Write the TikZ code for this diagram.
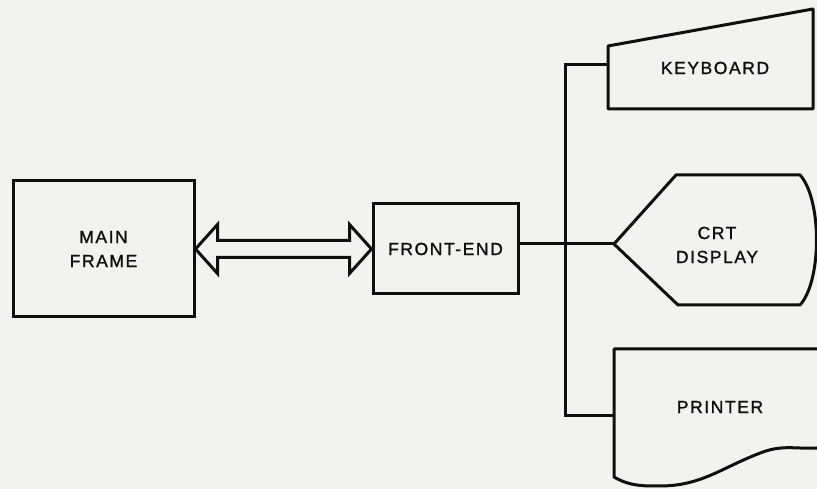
\documentclass[tikz,border=0pt]{standalone}
\usepackage{fontspec}
\setmainfont{Liberation Sans}[LetterSpace=9,FakeBold=1.3]
\definecolor{paper}{RGB}{242,242,240}
\definecolor{ink}{RGB}{15,15,15}

\begin{document}
\begin{tikzpicture}[x=1pt,y=1pt,line width=3pt,draw=ink,
  box/.style={draw,inner sep=0pt},
  lbl/.style={align=center,text=ink,font=\fontsize{17.5}{24}\selectfont}]
  \fill[paper] (0,0) rectangle (817,489);
  \useasboundingbox (0,0) rectangle (817,489);

  \node[box,lbl,minimum width=181,minimum height=136] (mf) at (103.5,240) {MAIN\\FRAME};
  \node[box,lbl,minimum width=145,minimum height=90] (fe) at (445.5,240) {FRONT-END};

  \draw[line join=miter] (mf.east) -- ++(22,24.5) -- ++(0,-16)
    -- ([shift={(-22,8.5)}]fe.west) -- ++(0,16) -- (fe.west)
    -- ++(-22,-24.5) -- ++(0,16) -- ([shift={(22,-8.5)}]mf.east)
    -- ++(0,-16) -- cycle;

  \coordinate (kbin) at (608,424);
  \coordinate (crtin) at (614,245);
  \coordinate (prin) at (614,73);
  \coordinate (bustop) at (565,424);
  \coordinate (busbot) at (565,73);

  \draw (fe.east |- crtin) -- (crtin);
  \draw (kbin) -- (bustop) -- (busbot) -- (prin);

  \draw[line join=round] (608,380) -- (608,443) -- (813,480) -- (813,380) -- cycle;
  \node[lbl] (kb) at (715,421) {KEYBOARD};

  \draw[line join=round] (crtin) -- (676,314) -- (800,314)
    .. controls (822,290) and (822,208) .. (800,184) -- (678,184) -- cycle;
  \node[lbl] (crt) at (717,244) {CRT\\DISPLAY};

  \draw[line join=round] (817,140) -- (614,140) -- (614,12)
    to[out=-30,in=180] (660,3) to[out=0,in=200] (763,37) to[out=20,in=183] (817,41);
  \node[lbl] (pr) at (720,82) {PRINTER};
\end{tikzpicture}
\end{document}
